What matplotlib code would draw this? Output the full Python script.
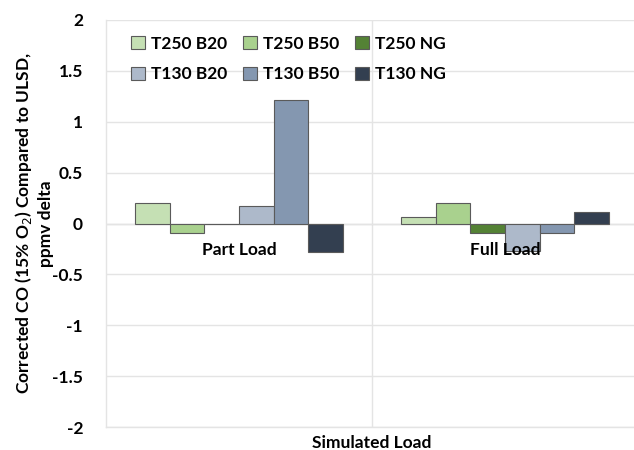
import matplotlib
matplotlib.use("Agg")
import matplotlib.pyplot as plt
import numpy as np

plt.rcParams['font.family'] = ['Lato', 'DejaVu Sans']

categories = ["Part Load", "Full Load"]
series_names = ["T250 B20", "T250 B50", "T250 NG", "T130 B20", "T130 B50", "T130 NG"]
series_colors = ["#c5e0b4", "#a9d18e", "#548235", "#adb9ca", "#8497b0", "#333f50"]
values = {
    "T250 B20": [0.20, 0.06],
    "T250 B50": [-0.09, 0.20],
    "T250 NG": [-0.005, -0.09],
    "T130 B20": [0.17, -0.27],
    "T130 B50": [1.21, -0.09],
    "T130 NG": [-0.28, 0.11],
}
yticks = [-2, -1.5, -1, -0.5, 0, 0.5, 1, 1.5, 2]
ytick_labels = ["-2", "-1.5", "-1", "-0.5", "0", "0.5", "1", "1.5", "2"]

FS = 12.5

fig = plt.figure(figsize=(6.34, 4.5), dpi=100)
ax = fig.add_axes([106 / 634, 1 - 427 / 450, 532 / 634, 407 / 450])

x = np.arange(len(categories))
width = 0.13
n = len(series_names)
handles = []
for i, (name, col) in enumerate(zip(series_names, series_colors)):
    offs = (i - (n - 1) / 2) * width
    h = ax.bar(x + offs, values[name], width, color=col, edgecolor="#5a5a5a",
               linewidth=0.8, label=name, zorder=3)
    handles.append(h)

ax.set_xlim(-0.5, 1.5)
ax.set_ylim(-2, 2)
ax.set_yticks(yticks)
ax.set_yticklabels(ytick_labels, fontsize=FS, fontweight="bold")
ax.set_xticks([])
ax.tick_params(axis="y", length=0, pad=16.5)
ax.yaxis.grid(True, color="#e4e4e4", linewidth=1, zorder=0)
ax.axvline(0.5, color="#e4e4e4", linewidth=1, zorder=0)
ax.axhline(0, color="#d9d9d9", linewidth=1, zorder=1)
for s in ["left", "bottom", "right", "top"]:
    ax.spines[s].set_color("#e4e4e4")
    ax.spines[s].set_linewidth(1)
ax.spines["top"].set_visible(False)

for xi, cat in zip(x, categories):
    ax.text(xi, -0.18, cat, ha="center", va="top", fontsize=FS, fontweight="bold", zorder=4)

ax.set_xlabel("Simulated Load", fontsize=FS, fontweight="bold", labelpad=6)
ax.set_ylabel("Corrected CO (15% O$_2$) Compared to ULSD,\nppmv delta",
              fontsize=FS, fontweight="bold", labelpad=-1, linespacing=1.3)

# legend filled row by row: three entries per row
order = [0, 3, 1, 4, 2, 5]
leg = ax.legend(handles=[handles[k] for k in order],
                labels=[series_names[k] for k in order],
                ncol=3, loc="upper left", bbox_to_anchor=(0.018, 1.0),
                frameon=False, prop={"weight": "bold", "size": FS},
                handlelength=0.8, handleheight=0.8, handletextpad=0.35,
                columnspacing=0.9, labelspacing=0.85)

fig.savefig("out.png", dpi=100)
